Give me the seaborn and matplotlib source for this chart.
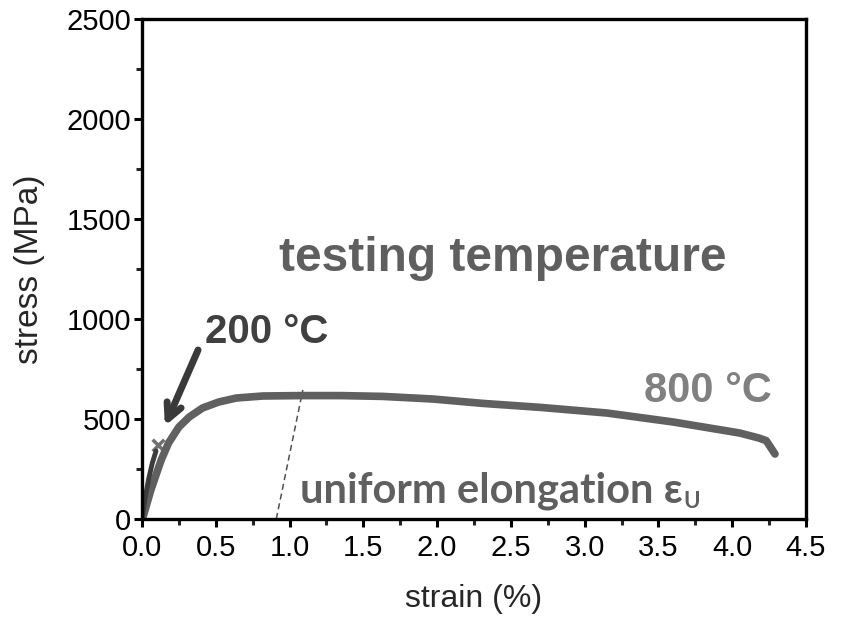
import matplotlib
matplotlib.use("Agg")
import matplotlib.pyplot as plt
import seaborn as sns
import pandas as pd
from matplotlib.ticker import MultipleLocator

# ---- data ----
strain_800 = [0.0, 0.007, 0.06, 0.13, 0.18, 0.25, 0.32, 0.41, 0.52, 0.64, 0.82, 1.07,
              1.35, 1.63, 1.97, 2.31, 2.70, 3.15, 3.60, 4.05, 4.18, 4.23, 4.29]
stress_800 = [0, 10, 145, 295, 380, 460, 510, 555, 585, 605, 615, 617,
              617, 613, 600, 578, 558, 530, 485, 430, 405, 392, 325]

strain_200 = [0.0, 0.02, 0.045, 0.07, 0.095]
stress_200 = [0, 100, 200, 280, 340]
strain_200_end = [0.11]
stress_200_end = [370]

uniform_x = [0.91, 1.09]
uniform_y = [0, 645]

x_ticks = [0.0, 0.5, 1.0, 1.5, 2.0, 2.5, 3.0, 3.5, 4.0, 4.5]
y_ticks = [0, 500, 1000, 1500, 2000, 2500]

df800 = pd.DataFrame({"strain": strain_800, "stress": stress_800})
df200 = pd.DataFrame({"strain": strain_200, "stress": stress_200})
dfend = pd.DataFrame({"strain": strain_200_end, "stress": stress_200_end})
dfu = pd.DataFrame({"strain": uniform_x, "stress": uniform_y})

sns.set_style("ticks")
plt.rcParams["font.family"] = ["Liberation Sans", "DejaVu Sans"]

fig = plt.figure(figsize=(8.41, 6.19), dpi=100)
ax = fig.add_axes([142 / 841, 1 - 519 / 619, (806 - 142) / 841, (519 - 19) / 619])

sns.lineplot(data=dfu, x="strain", y="stress", ax=ax, color="#505050",
             linewidth=1.1, linestyle=(0, (4, 2.5)), sort=False, estimator=None)
sns.lineplot(data=df800, x="strain", y="stress", ax=ax, color="#606060",
             linewidth=5.5, sort=False, estimator=None, solid_capstyle="round",
             solid_joinstyle="round")
sns.lineplot(data=df200, x="strain", y="stress", ax=ax, color="#3c3c3c",
             linewidth=3.5, sort=False, estimator=None, solid_capstyle="round")
sns.scatterplot(data=dfend, x="strain", y="stress", ax=ax, marker="x", s=70,
                color="#707070", linewidth=2.5)

ax.set_xlim(0, 4.5)
ax.set_ylim(0, 2500)
ax.set_xticks(x_ticks)
ax.set_xticklabels([f"{v:.1f}" for v in x_ticks])
ax.set_yticks(y_ticks)
ax.set_yticklabels([str(v) for v in y_ticks])
ax.xaxis.set_minor_locator(MultipleLocator(0.25))
ax.yaxis.set_minor_locator(MultipleLocator(250))

for s in ax.spines.values():
    s.set_linewidth(2.4)
    s.set_color("black")
ax.tick_params(axis="both", which="major", direction="out", length=6, width=2.2,
               labelsize=21, pad=2, colors="black")
ax.tick_params(axis="x", which="major", pad=5)
ax.tick_params(axis="both", which="minor", direction="out", length=4, width=2.2)
ax.tick_params(top=False, right=False, which="both")

ax.set_xlabel("strain (%)", fontsize=23, labelpad=16)
ax.set_ylabel("stress (MPa)", fontsize=24, labelpad=15)

ax.text(0.93, 1240, "testing temperature", fontsize=34.5, fontweight="bold",
        color="#5f5f5f", ha="left", va="baseline")
ax.text(0.43, 880, "200 °C", fontsize=29, fontweight="bold",
        color="#404040", ha="left", va="baseline")
ax.text(3.40, 585, "800 °C", fontsize=30, fontweight="bold",
        color="#808080", ha="left", va="baseline")
ax.text(1.07, 80, "uniform elongation ε", fontsize=30, fontweight="bold",
        color="#5f5f5f", ha="left", va="baseline",
        family=["Lato", "Open Sans", "DejaVu Sans"])
ax.text(3.67, 55, "U", fontsize=16, fontweight="bold",
        color="#5f5f5f", ha="left", va="baseline",
        family=["Lato", "Open Sans", "DejaVu Sans"])

ax.annotate("", xy=(0.155, 465), xytext=(0.38, 845),
            arrowprops=dict(arrowstyle="->,head_length=1.1,head_width=0.55",
                            color="#3a3a3a", lw=5, shrinkA=0, shrinkB=0))

fig.savefig("out.png", dpi=100)
